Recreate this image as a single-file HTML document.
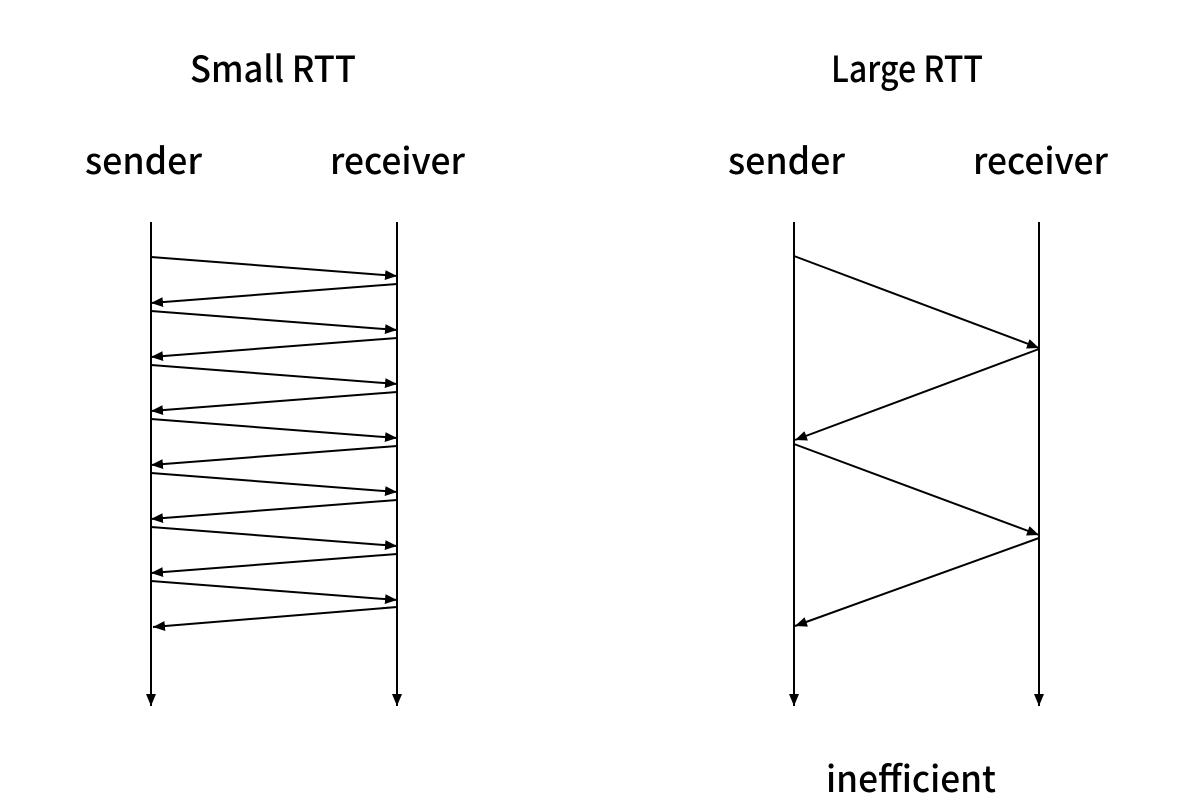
<!DOCTYPE html>
<html><head><meta charset="utf-8"><style>html,body{margin:0;padding:0;background:#fff}svg{display:block}</style></head>
<body>
<svg width="1198" height="812" viewBox="0 0 1198 812" xmlns="http://www.w3.org/2000/svg">
<defs>
<marker id="a" viewBox="0 0 12 10" refX="12" refY="5" markerWidth="12" markerHeight="10" markerUnits="userSpaceOnUse" orient="auto"><path d="M0,0 L12,5 L0,10 z" fill="#000"/></marker>
</defs>
<g font-family="Noto Sans CJK JP, Liberation Sans, sans-serif" font-size="36" font-weight="500" fill="#000">
<text x="190" y="82" textLength="166" lengthAdjust="spacingAndGlyphs">Small RTT</text>
<text x="85" y="174" textLength="117" lengthAdjust="spacingAndGlyphs">sender</text>
<text x="330" y="174" textLength="135" lengthAdjust="spacingAndGlyphs">receiver</text>
<text x="831" y="82" textLength="152" lengthAdjust="spacingAndGlyphs">Large RTT</text>
<text x="728" y="174" textLength="117" lengthAdjust="spacingAndGlyphs">sender</text>
<text x="973" y="174" textLength="135" lengthAdjust="spacingAndGlyphs">receiver</text>
<text x="826" y="792" textLength="170" lengthAdjust="spacingAndGlyphs">inefficient</text>
</g>
<g stroke="#000" stroke-width="2" fill="none" marker-end="url(#a)">
<line x1="151" y1="222" x2="151" y2="706"/>
<line x1="397" y1="222" x2="397" y2="706"/>
<line x1="794" y1="222" x2="794" y2="706"/>
<line x1="1039" y1="222" x2="1039" y2="706"/>

<line x1="151" y1="257" x2="397" y2="276"/>
<line x1="397" y1="284" x2="151" y2="303"/>
<line x1="151" y1="311" x2="397" y2="330"/>
<line x1="397" y1="338" x2="151" y2="357"/>
<line x1="151" y1="365" x2="397" y2="384"/>
<line x1="397" y1="392" x2="151" y2="411"/>
<line x1="151" y1="419" x2="397" y2="438"/>
<line x1="397" y1="446" x2="151" y2="465"/>
<line x1="151" y1="473" x2="397" y2="492"/>
<line x1="397" y1="500" x2="151" y2="519"/>
<line x1="151" y1="527" x2="397" y2="546"/>
<line x1="397" y1="554" x2="151" y2="573"/>
<line x1="151" y1="581" x2="397" y2="600"/>
<line x1="397" y1="607" x2="153" y2="627"/>

<line x1="794" y1="256" x2="1039" y2="348"/>
<line x1="1039" y1="349" x2="795" y2="440"/>
<line x1="794" y1="444" x2="1039" y2="535"/>
<line x1="1039" y1="538" x2="795" y2="626"/>
</g>
</svg>
</body></html>
